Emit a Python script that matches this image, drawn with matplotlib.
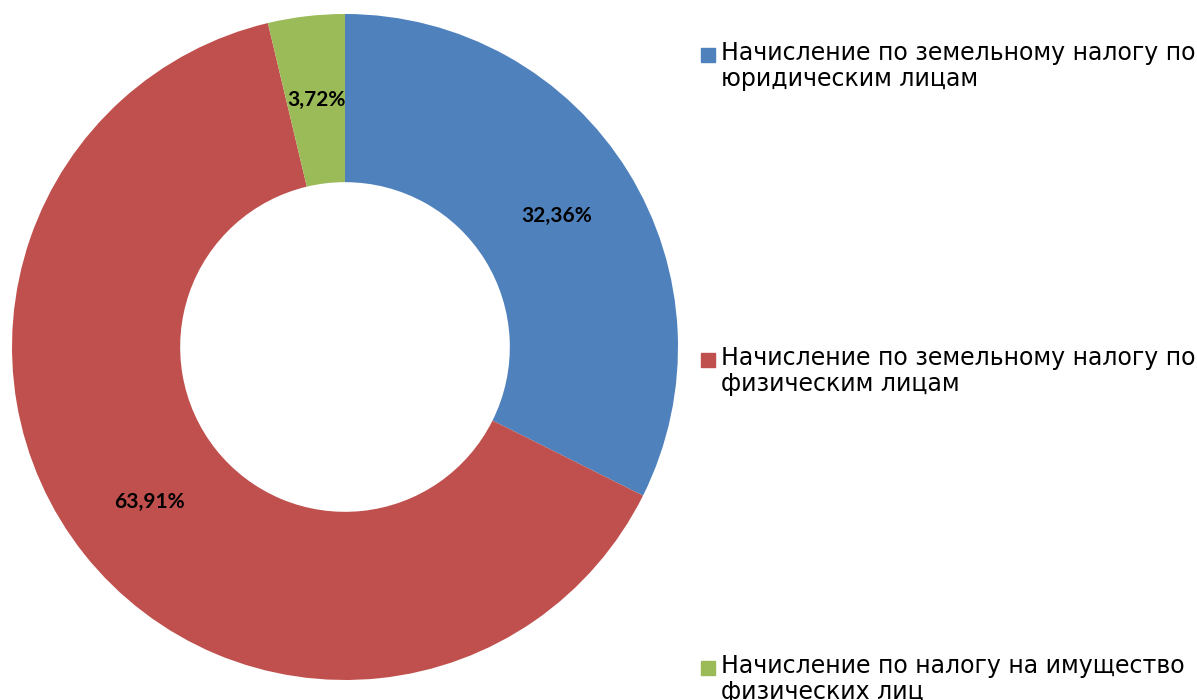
import numpy as np
import matplotlib.pyplot as plt
from matplotlib.patches import Rectangle

# Données
categories = [
    "Начисление по земельному налогу по\nюридическим лицам",
    "Начисление по земельному налогу по\nфизическим лицам",
    "Начисление по налогу на имущество\nфизических лиц",
]
parts = [32.36, 63.91, 3.72]
etiquettes = ["32,36%", "63,91%", "3,72%"]
couleurs = ["#4F81BD", "#C0504D", "#9BBB59"]

W, H = 1197, 700
fig = plt.figure(figsize=(W / 100, H / 100), dpi=100)

# Anneau
cx, cy, r = 345, 347, 333
ax = fig.add_axes([(cx - r) / W, (H - cy - r) / H, 2 * r / W, 2 * r / H])
wedges, _ = ax.pie(parts, colors=couleurs, startangle=90, counterclock=False,
                   radius=1, wedgeprops=dict(width=0.505, linewidth=0))
ax.set_xlim(-1, 1)
ax.set_ylim(-1, 1)
ax.axis('off')

# Étiquettes au milieu de l'anneau
angle = 90.0
total = sum(parts)
for p, txt in zip(parts, etiquettes):
    mid = np.deg2rad(angle - p / total * 180)
    angle -= p / total * 360
    ax.text(0.748 * np.cos(mid), 0.748 * np.sin(mid), txt,
            ha='center', va='center', fontsize=15, fontweight='bold',
            family='Lato', color='black')

# Légende (placée à la main) : y = ligne de base de la 2e ligne
bases = [86, 391, 699]
for lab, col, y in zip(categories, couleurs, bases):
    fig.patches.append(Rectangle((701 / W, 1 - (y - 24) / H), 14 / W, 14 / H,
                                 transform=fig.transFigure, color=col))
    fig.text(721 / W, 1 - y / H, lab, ha='left', va='baseline', fontsize=17,
             family='DejaVu Sans', linespacing=1.1, color='black')

fig.savefig('out.png', dpi=100)
